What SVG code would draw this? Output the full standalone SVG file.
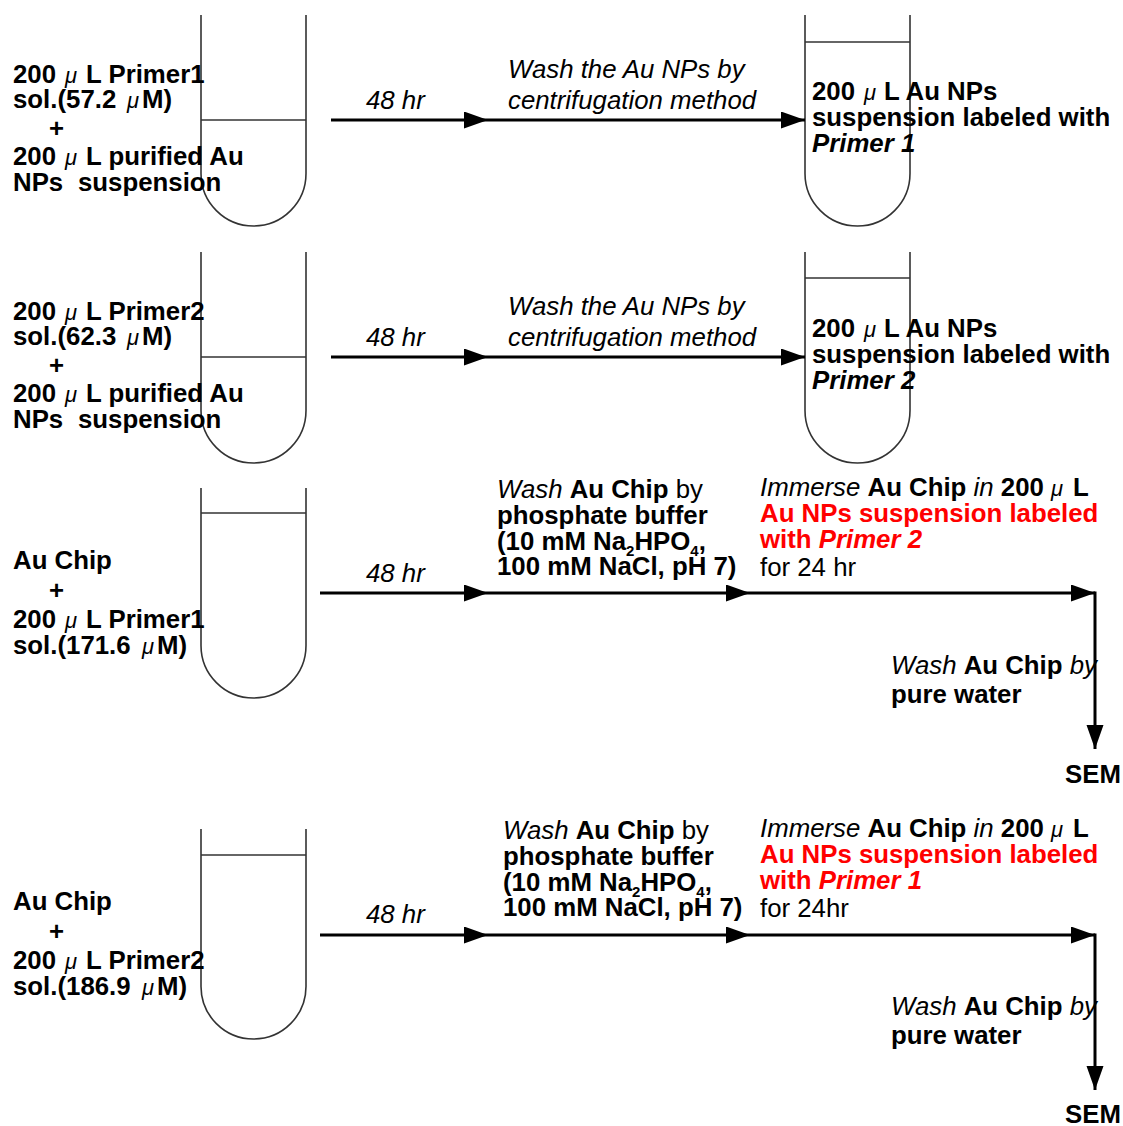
<svg xmlns="http://www.w3.org/2000/svg" width="1123" height="1126" viewBox="0 0 1123 1126">
<style>
.t{font-family:"Liberation Sans",Arial,sans-serif;font-size:25.8px;fill:#000}
.b{font-weight:bold}
.i{font-style:italic}
.n{font-weight:normal}
.mu{font-family:"Liberation Sans",Arial,sans-serif;font-weight:normal;font-style:italic;font-size:22px}
.red{fill:#f00}
.sub{font-size:15px}
.tube{fill:none;stroke:#333;stroke-width:1.6}
.arr{fill:none;stroke:#000;stroke-width:3;marker-end:url(#ah)}
</style>
<defs>
<marker id="ah" markerUnits="userSpaceOnUse" markerWidth="24" markerHeight="18" refX="24" refY="8.5" orient="auto">
<path d="M0,0 L24,8.5 L0,17 z" fill="#000"/>
</marker>
</defs>

<!-- Row 1 -->
<g id="tube1a">
<path class="tube" d="M201,15 V173.5 A52.5,52.5 0 0 0 306,173.5 V15"/>
<line class="tube" x1="201" y1="120" x2="306" y2="120"/>
</g>
<g id="label1a" class="t b">
<text x="13" y="83">200<tspan class="mu" x="65">μ</tspan><tspan x="86">L Primer1</tspan></text>
<text x="13" y="108">sol.(57.2<tspan class="mu" x="127">μ</tspan><tspan x="142">M)</tspan></text>
<text x="49" y="137">+</text>
<text x="13" y="165">200<tspan class="mu" x="65">μ</tspan><tspan x="86">L purified Au</tspan></text>
<text x="13" y="191">NPs<tspan x="78">suspension</tspan></text>
</g>
<g id="step1a" class="t i">
<text x="366" y="109">48 hr</text>
</g>
<g id="step1b" class="t i">
<text x="508" y="78">Wash the Au NPs by</text>
<text x="508" y="109">centrifugation method</text>
</g>
<g id="tube1b">
<path class="tube" d="M805,15 V173.5 A52.5,52.5 0 0 0 910,173.5 V15"/>
<line class="tube" x1="805" y1="42" x2="910" y2="42"/>
</g>
<g id="label1b" class="t b">
<text x="812" y="100">200<tspan class="mu" x="864">μ</tspan><tspan x="884">L Au NPs</tspan></text>
<text x="812" y="126">suspension labeled with</text>
<text x="812" y="152" class="i">Primer 1</text>
</g>

<!-- Row 2 -->
<g id="tube2a">
<path class="tube" d="M201,252 V410.5 A52.5,52.5 0 0 0 306,410.5 V252"/>
<line class="tube" x1="201" y1="357" x2="306" y2="357"/>
</g>
<g id="label2a" class="t b">
<text x="13" y="320">200<tspan class="mu" x="65">μ</tspan><tspan x="86">L Primer2</tspan></text>
<text x="13" y="345">sol.(62.3<tspan class="mu" x="127">μ</tspan><tspan x="142">M)</tspan></text>
<text x="49" y="374">+</text>
<text x="13" y="402">200<tspan class="mu" x="65">μ</tspan><tspan x="86">L purified Au</tspan></text>
<text x="13" y="428">NPs<tspan x="78">suspension</tspan></text>
</g>
<g id="step2a" class="t i">
<text x="366" y="346">48 hr</text>
</g>
<g id="step2b" class="t i">
<text x="508" y="315">Wash the Au NPs by</text>
<text x="508" y="346">centrifugation method</text>
</g>
<g id="tube2b">
<path class="tube" d="M805,252 V410.5 A52.5,52.5 0 0 0 910,410.5 V252"/>
<line class="tube" x1="805" y1="278" x2="910" y2="278"/>
</g>
<g id="label2b" class="t b">
<text x="812" y="337">200<tspan class="mu" x="864">μ</tspan><tspan x="884">L Au NPs</tspan></text>
<text x="812" y="363">suspension labeled with</text>
<text x="812" y="389" class="i">Primer 2</text>
</g>

<!-- Row 3 -->
<g id="tube3">
<path class="tube" d="M201,488 V645.5 A52.5,52.5 0 0 0 306,645.5 V488"/>
<line class="tube" x1="201" y1="513" x2="306" y2="513"/>
</g>
<g id="label3" class="t b">
<text x="13" y="569">Au Chip</text>
<text x="49" y="599">+</text>
<text x="13" y="628">200<tspan class="mu" x="65">μ</tspan><tspan x="86">L Primer1</tspan></text>
<text x="13" y="654">sol.(171.6<tspan class="mu" x="142">μ</tspan><tspan x="157">M)</tspan></text>
</g>
<g id="step3a" class="t i">
<text x="366" y="582">48 hr</text>
</g>
<g id="step3b" class="t">
<text x="497" y="498"><tspan class="i">Wash </tspan><tspan class="b">Au Chip</tspan> by</text>
<text x="497" y="524" class="b">phosphate buffer</text>
<text x="497" y="550" class="b">(10 mM Na<tspan class="sub" dy="6">2</tspan><tspan dy="-6">HPO</tspan><tspan class="sub" dy="6">4</tspan><tspan dy="-6">,</tspan></text>
<text x="497" y="575" class="b">100 mM NaCl, pH 7)</text>
</g>
<g id="step3c" class="t">
<text x="760" y="496"><tspan class="i">Immerse </tspan><tspan class="b">Au Chip</tspan><tspan class="i"> in </tspan><tspan class="b">200</tspan><tspan class="mu" x="1051">μ</tspan><tspan class="b" x="1073">L</tspan></text>
<text x="760" y="522" class="b red">Au NPs suspension labeled</text>
<text x="760" y="548" class="b red">with <tspan class="i">Primer 2</tspan></text>
<text x="760" y="576">for 24 hr</text>
</g>
<g id="step3d" class="t">
<text x="891" y="674"><tspan class="i">Wash </tspan><tspan class="b">Au Chip</tspan><tspan class="i"> by</tspan></text>
<text x="891" y="703" class="b">pure water</text>
</g>
<g id="sem3" class="t b">
<text x="1065" y="783">SEM</text>
</g>

<!-- Row 4 -->
<g id="tube4">
<path class="tube" d="M201,829 V986.5 A52.5,52.5 0 0 0 306,986.5 V829"/>
<line class="tube" x1="201" y1="855" x2="306" y2="855"/>
</g>
<g id="label4" class="t b">
<text x="13" y="910">Au Chip</text>
<text x="49" y="940">+</text>
<text x="13" y="969">200<tspan class="mu" x="65">μ</tspan><tspan x="86">L Primer2</tspan></text>
<text x="13" y="995">sol.(186.9<tspan class="mu" x="142">μ</tspan><tspan x="157">M)</tspan></text>
</g>
<g id="step4a" class="t i">
<text x="366" y="923">48 hr</text>
</g>
<g id="step4b" class="t">
<text x="503" y="839"><tspan class="i">Wash </tspan><tspan class="b">Au Chip</tspan> by</text>
<text x="503" y="865" class="b">phosphate buffer</text>
<text x="503" y="891" class="b">(10 mM Na<tspan class="sub" dy="6">2</tspan><tspan dy="-6">HPO</tspan><tspan class="sub" dy="6">4</tspan><tspan dy="-6">,</tspan></text>
<text x="503" y="916" class="b">100 mM NaCl, pH 7)</text>
</g>
<g id="step4c" class="t">
<text x="760" y="837"><tspan class="i">Immerse </tspan><tspan class="b">Au Chip</tspan><tspan class="i"> in </tspan><tspan class="b">200</tspan><tspan class="mu" x="1051">μ</tspan><tspan class="b" x="1073">L</tspan></text>
<text x="760" y="863" class="b red">Au NPs suspension labeled</text>
<text x="760" y="889" class="b red">with <tspan class="i">Primer 1</tspan></text>
<text x="760" y="917">for 24hr</text>
</g>
<g id="step4d" class="t">
<text x="891" y="1015"><tspan class="i">Wash </tspan><tspan class="b">Au Chip</tspan><tspan class="i"> by</tspan></text>
<text x="891" y="1044" class="b">pure water</text>
</g>
<g id="sem4" class="t b">
<text x="1065" y="1123">SEM</text>
</g>

<g id="connectors">
<line class="arr" x1="331" y1="120" x2="488" y2="120"/>
<line class="arr" x1="488" y1="120" x2="805" y2="120"/>
<line class="arr" x1="331" y1="357" x2="488" y2="357"/>
<line class="arr" x1="488" y1="357" x2="805" y2="357"/>
<line class="arr" x1="320" y1="593" x2="488" y2="593"/>
<line class="arr" x1="488" y1="593" x2="750" y2="593"/>
<line class="arr" x1="750" y1="593" x2="1095" y2="593"/>
<line class="arr" x1="1095" y1="591.5" x2="1095" y2="749"/>
<line class="arr" x1="320" y1="935" x2="488" y2="935"/>
<line class="arr" x1="488" y1="935" x2="750" y2="935"/>
<line class="arr" x1="750" y1="935" x2="1095" y2="935"/>
<line class="arr" x1="1095" y1="933.5" x2="1095" y2="1090"/>
</g>
</svg>
